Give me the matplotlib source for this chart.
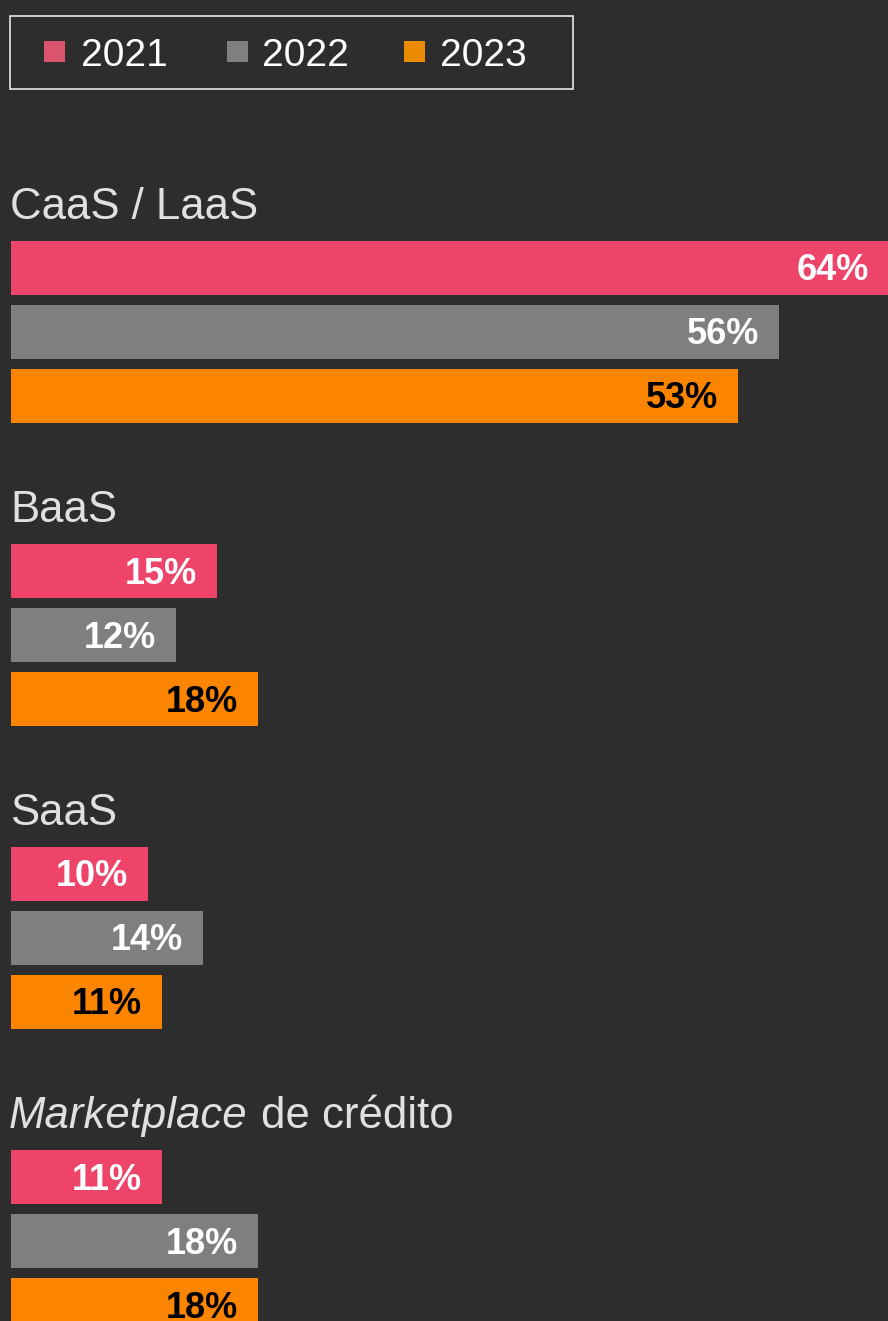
import matplotlib
matplotlib.use("Agg")
import matplotlib.pyplot as plt
from matplotlib.patches import Rectangle
from matplotlib import font_manager as fm

# Share of respondents per business model and year
categories = ["CaaS / LaaS", "BaaS", "SaaS", "Marketplace de crédito"]
years = ["2021", "2022", "2023"]
v2021 = [64, 15, 10, 11]
v2022 = [56, 12, 14, 18]
v2023 = [53, 18, 11, 18]
series = [v2021, v2022, v2023]

W, H, DPI = 888, 1321, 100
BG = "#2d2d2d"
bar_colors = ["#ee4469", "#7f7f7f", "#fb8500"]
key_colors = ["#db546e", "#7f7f7f", "#eb8c00"]
value_colors = ["white", "white", "black"]
FONT = "Liberation Sans"


def font_file(family, weight, style):
    """Pick the exact (non-narrow) face of a family."""
    for f in fm.fontManager.ttflist:
        if (f.name == family and f.style == style and f.weight == weight
                and "Narrow" not in f.fname):
            return fm.FontProperties(fname=f.fname)
    return fm.FontProperties(family=family, weight=weight, style=style)


fp_bold = font_file(FONT, 700, "normal")
fp_reg = font_file(FONT, 400, "normal")
fp_ital = font_file(FONT, 400, "italic")

# layout in pixels
X0 = 11              # left edge of bars
PX_PER_PCT = 13.72   # horizontal scale
GROUP_TOP = 241      # top of first bar
GROUP_STEP = 303
BAR_STEP = 64
BAR_H = 54

fig = plt.figure(figsize=(W / DPI, H / DPI), dpi=DPI, facecolor=BG)

# bars axes: x in percent, y in pixels (downwards)
ax = fig.add_axes([0, 0, 1, 1])
ax.set_facecolor(BG)
ax.set_xlim(-X0 / PX_PER_PCT, (W - X0) / PX_PER_PCT)
ax.set_ylim(H, 0)
ax.axis("off")

# overlay axes in pixel units for legend and titles
lay = fig.add_axes([0, 0, 1, 1], zorder=3)
lay.patch.set_alpha(0)
lay.set_xlim(0, W)
lay.set_ylim(H, 0)
lay.axis("off")

TITLE_SIZE = 31.5
for g, cat in enumerate(categories):
    top = GROUP_TOP + g * GROUP_STEP
    for i, vals in enumerate(series):
        yc = top + i * BAR_STEP + BAR_H / 2
        v = vals[g]
        ax.barh(yc, v, height=BAR_H, left=0, color=bar_colors[i],
                edgecolor="none")
        ax.annotate(f"{v}%", xy=(v, yc), xytext=(-20, -12.5),
                    textcoords="offset pixels", ha="right", va="baseline",
                    color=value_colors[i], fontproperties=fp_bold,
                    fontsize=26, annotation_clip=False)
    base = top - 22
    if cat.startswith("Marketplace"):
        t1 = lay.text(X0 - 2, base, "Marketplace", fontproperties=fp_ital,
                      fontsize=TITLE_SIZE, color="#e0e0e0",
                      va="baseline", ha="left")
        fig.canvas.draw()
        bb = t1.get_window_extent()
        x_end = lay.transData.inverted().transform((bb.x1, bb.y0))[0]
        lay.text(x_end + 13, base, "de crédito", fontproperties=fp_reg,
                 fontsize=TITLE_SIZE, color="#e0e0e0",
                 va="baseline", ha="left")
    else:
        lay.text(X0 - 1, base, cat, fontproperties=fp_reg,
                 fontsize=TITLE_SIZE, color="#e0e0e0",
                 va="baseline", ha="left")

# legend box
lay.add_patch(Rectangle((9.5, 15.5), 563, 73, facecolor="none",
                        edgecolor="#e6e6e6", linewidth=1.2))
key_x = [44, 227, 404]
txt_x = [81, 262, 440]
for k, yr in enumerate(years):
    lay.add_patch(Rectangle((key_x[k], 41), 21, 21, facecolor=key_colors[k],
                            edgecolor="none"))
    lay.text(txt_x[k], 66, yr, fontproperties=fp_reg, fontsize=28,
             color="white", va="baseline", ha="left")

fig.savefig("out.png", dpi=DPI, facecolor=BG)
